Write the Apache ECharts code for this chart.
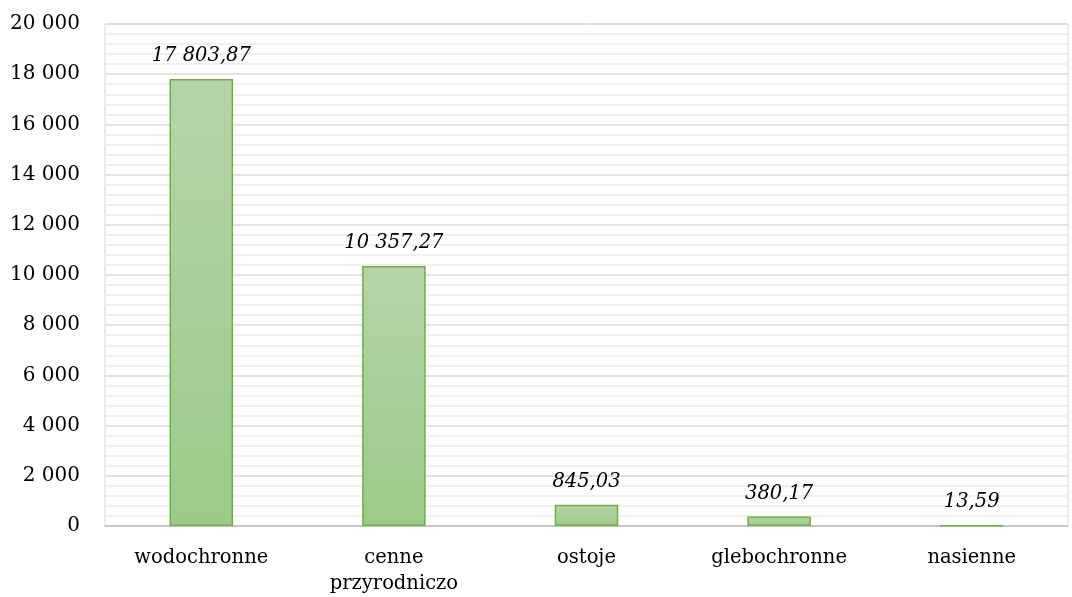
<!DOCTYPE html>
<html><head><meta charset="utf-8">
<script src="https://cdn.jsdelivr.net/npm/echarts@6/dist/echarts.min.js"></script>
<style>html,body{margin:0;padding:0;background:#fff}#c{width:1072px;height:597px}</style>
</head><body><div id="c"></div>
<script>
const categories = ['wodochronne', 'cenne\nprzyrodniczo', 'ostoje', 'glebochronne', 'nasienne'];
const values = [17803.87, 10357.27, 845.03, 380.17, 13.59];
const yMin = 0, yMax = 20000, yStep = 2000;

function fmtInt(v){ return String(Math.round(v)).replace(/\B(?=(\d{3})+(?!\d))/g, ' '); }
function fmtDec(v){
  const parts = v.toFixed(2).split('.');
  return parts[0].replace(/\B(?=(\d{3})+(?!\d))/g, ' ') + ',' + parts[1];
}
const font = '"DejaVu Serif", serif';
const chart = echarts.init(document.getElementById('c'));
chart.setOption({
  animation: false,
  grid: { left: 105, right: 4, top: 24, bottom: 71, show: true, borderColor: '#d9d9d9', borderWidth: 1 },
  xAxis: {
    type: 'category', data: categories,
    axisLine: { lineStyle: { color: '#bfbfbf', width: 1.5 } },
    axisTick: { show: false },
    axisLabel: { color: '#000', fontFamily: font, fontSize: 19.5, margin: 19, lineHeight: 26 }
  },
  yAxis: {
    type: 'value', min: yMin, max: yMax, interval: yStep,
    axisLine: { show: false }, axisTick: { show: false },
    axisLabel: { color: '#000', fontFamily: font, fontSize: 20, margin: 25, formatter: fmtInt },
    splitLine: { lineStyle: { color: '#d9d9d9', width: 1.5 } },
    minorTick: { show: false, splitNumber: 5 },
    minorSplitLine: { show: true, lineStyle: { color: '#ebebeb', width: 1.5 } }
  },
  series: [{
    type: 'bar', data: values, barWidth: '33%',
    itemStyle: {
      color: new echarts.graphic.LinearGradient(0, 0, 0, 1, [
        { offset: 0, color: '#b5d4a8' }, { offset: 1, color: '#9cca88' }
      ]),
      borderColor: '#70ad47', borderWidth: 1.5
    },
    label: {
      show: true, position: 'top', distance: 13, color: '#000',
      fontFamily: font, fontSize: 19.5, fontStyle: 'italic',
      formatter: p => fmtDec(p.value)
    }
  }]
});
</script></body></html>
